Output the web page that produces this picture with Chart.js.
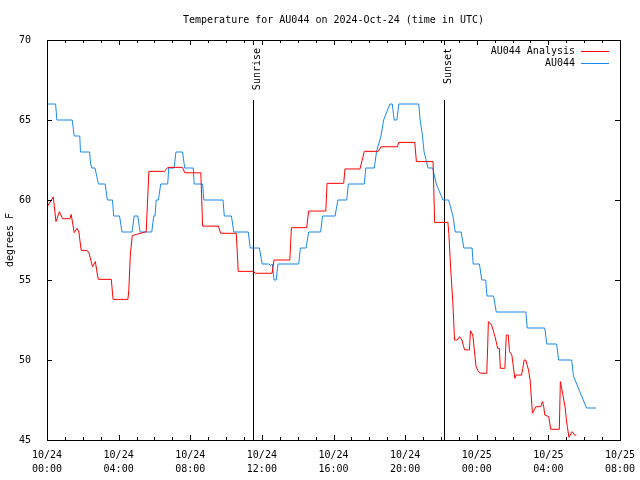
<!DOCTYPE html>
<html>
<head>
<meta charset="utf-8">
<title>Temperature for AU044</title>
<script src="https://cdn.jsdelivr.net/npm/chart.js@4.4.1/dist/chart.umd.min.js"></script>
<style>
  html, body { margin: 0; padding: 0; background: #fff; }
  #wrap { width: 640px; height: 480px; }
</style>
</head>
<body>
<div id="wrap"><canvas id="tempChart" width="640" height="480"></canvas></div>
<script>
// ============================================
// Data (hours since 10/24 00:00 UTC, degrees F)
// ============================================
const analysisHours = [
    0, 0.35, 0.5, 0.69, 0.87, 1.28, 1.35, 1.52, 1.68, 1.78, 1.91, 2.24, 2.35, 2.54, 2.7, 2.82, 2.87,
    3.59, 3.69, 4.52, 4.57, 4.65, 4.76, 5.0, 5.54, 5.69, 6.56, 6.75, 7.57, 7.69, 8.59, 8.69, 9.57,
    9.7, 10.57, 10.68, 11.5, 11.65, 12.57, 12.68, 13.56, 13.65, 14.5, 14.61, 15.57, 15.64, 16.57,
    16.64, 17.48, 17.72, 18.5, 18.65, 19.57, 19.64, 20.54, 20.63, 21.56, 21.65, 22.39, 22.44, 22.54,
    22.67, 22.76, 22.91, 23.04, 23.17, 23.32, 23.59, 23.65, 23.78, 23.96, 24.09, 24.24, 24.56, 24.61,
    24.65, 24.83, 25.02, 25.17, 25.26, 25.32, 25.57, 25.65, 25.76, 25.83, 25.96, 26.13, 26.2, 26.5,
    26.57, 26.65, 26.74, 26.89, 26.98, 27.11, 27.3, 27.57, 27.67, 27.74, 27.8, 28.02, 28.13, 28.61,
    28.67, 28.74, 28.83, 28.93, 29.0, 29.06, 29.15, 29.33, 29.46, 29.56
];
const analysisTemps = [
    59.55, 60.2, 58.65, 59.27, 58.83, 58.83, 59.1, 57.96, 58.23, 58.0, 56.85, 56.85, 56.67, 55.83, 56.15, 55.3, 55.04,
    55.04, 53.79, 53.79, 54.4, 56.5, 57.77, 57.85, 58.02, 61.79, 61.79, 62.04, 62.04, 61.7, 61.7, 58.37, 58.37,
    57.92, 57.92, 55.54, 55.54, 55.42, 55.42, 56.25, 56.25, 58.27, 58.27, 59.31, 59.31, 61.04, 61.04,
    61.94, 61.94, 63.04, 63.04, 63.33, 63.33, 63.6, 63.6, 62.4, 62.4, 58.6, 58.6, 57.9, 55.8,
    53.5, 51.25, 51.25, 51.46, 51.25, 50.63, 50.63, 51.83, 51.56, 49.58, 49.27, 49.17, 49.17, 50.83,
    52.4, 52.19, 51.46, 50.73, 50.73, 49.48, 49.48, 51.56, 51.56, 50.52, 50.31, 48.85, 49.06, 49.06,
    49.48, 50.0, 50.0, 49.38, 48.75, 46.67, 47.08, 47.08, 47.4, 47.08, 46.56, 46.46, 45.67, 45.67,
    48.65, 48.23, 47.71, 47.08, 46.35, 45.83, 45.17, 45.52, 45.31, 45.31
];

const obsHours = [
    0, 0.48, 0.55, 1.41, 1.52, 1.83, 1.87, 2.38, 2.43, 2.5, 2.68, 2.87, 3.25, 3.37, 3.66, 3.72, 4.05,
    4.19, 4.75, 4.87, 5.07, 5.2, 5.85, 5.96, 6.03, 6.1, 6.22, 6.35, 6.74, 6.8, 7.1, 7.2, 7.57, 7.69,
    8.17, 8.22, 8.69, 8.76, 9.83, 9.9, 10.3, 10.43, 11.24, 11.35, 11.86, 12.02, 12.4, 12.5, 12.58,
    12.68, 12.8, 12.9, 14.06, 14.15, 14.47, 14.61, 15.28, 15.39, 16.09, 16.24, 16.74, 16.83, 17.72,
    17.8, 18.28, 18.4, 18.65, 18.8, 19.15, 19.28, 19.39, 19.54, 19.65, 20.76, 20.84, 20.97, 21.06,
    21.28, 21.54, 21.74, 22.11, 22.43, 22.67, 22.8, 23.13, 23.28, 23.74, 23.8, 24.15, 24.28, 24.5,
    24.57, 24.94, 25.09, 26.74, 26.82, 27.8, 27.91, 28.46, 28.57, 29.3, 29.4, 30.13, 30.67
];
const obsTemps = [
    66, 66, 65, 65, 64, 64, 63, 63, 62.3, 62, 62, 61, 61, 60, 60, 59, 59,
    58, 58, 59, 59, 58, 58, 59, 59, 60, 60, 61, 61, 62, 62, 63, 63, 62,
    62, 61, 61, 60, 60, 59, 59, 58, 58, 57, 57, 56, 56, 55.9, 56,
    55, 55, 56, 56, 57, 57, 58, 58, 59, 59, 60, 60, 61, 61,
    62, 62, 63, 64, 65, 66, 66, 65, 65, 66, 66, 65, 64, 63,
    62, 62, 61, 60, 60, 59, 58, 58, 57, 57, 56, 56, 55, 55,
    54, 54, 53, 53, 52, 52, 51, 51, 50, 50, 49, 47, 47
];

const xTickDates = ["10/24", "10/24", "10/24", "10/24", "10/24", "10/24", "10/25", "10/25", "10/25"];
const xTickTimes = ["00:00", "04:00", "08:00", "12:00", "16:00", "20:00", "00:00", "04:00", "08:00"];

const sunEvents = ["Sunrise", "Sunset"];
const sunHours = [11.52, 22.19];

const seriesNames = ["AU044 Analysis", "AU044"];
const seriesColors = ["#ff0000", "#1a88f0"];

const FONT = "'DejaVu Sans Mono', monospace";

function toPoints(xs, ys) {
    return xs.map((x, i) => ({ x: x, y: ys[i] }));
}

// ============================================
// Plugin: gnuplot style frame, inward ticks, sun markers, legend
// ============================================
const gnuplotDecor = {
    id: "gnuplotDecor",
    beforeDatasetsDraw(chart) {
        const { ctx, chartArea: a, scales } = chart;
        const xs = scales.x;
        ctx.save();
        ctx.strokeStyle = "#000";
        ctx.lineWidth = 1;

        // sunrise / sunset lines with a white box behind the label
        ctx.font = "10px " + FONT;
        sunEvents.forEach((name, i) => {
            const px = Math.round(xs.getPixelForValue(sunHours[i])) + 0.5;
            ctx.beginPath();
            ctx.moveTo(px, a.top);
            ctx.lineTo(px, a.bottom);
            ctx.stroke();
            ctx.fillStyle = "#fff";
            ctx.fillRect(px - 5, a.top + 5, 14, 55);
            ctx.save();
            ctx.translate(px + 4, a.top + 8);
            ctx.rotate(-Math.PI / 2);
            ctx.fillStyle = "#000";
            ctx.textAlign = "right";
            ctx.textBaseline = "middle";
            ctx.fillText(name, 0, 0);
            ctx.restore();
        });
        ctx.restore();
    },
    afterDatasetsDraw(chart) {
        const { ctx, chartArea: a, scales } = chart;
        const xs = scales.x, ys = scales.y;
        ctx.save();
        ctx.strokeStyle = "#000";
        ctx.lineWidth = 1;
        ctx.beginPath();

        // x ticks (hourly minor, 4-hourly major), bottom and top
        for (let h = xs.min; h <= xs.max; h++) {
            const px = Math.round(xs.getPixelForValue(h)) + 0.5;
            const len = h % 4 === 0 ? 5 : 3;
            ctx.moveTo(px, a.bottom);
            ctx.lineTo(px, a.bottom - len);
            ctx.moveTo(px, a.top);
            ctx.lineTo(px, a.top + len);
        }
        // y ticks, left and right
        ys.ticks.forEach((t) => {
            const py = Math.round(ys.getPixelForValue(t.value)) + 0.5;
            ctx.moveTo(a.left, py);
            ctx.lineTo(a.left + 5, py);
            ctx.moveTo(a.right, py);
            ctx.lineTo(a.right - 5, py);
        });
        ctx.stroke();

        // frame
        ctx.strokeRect(Math.round(a.left) + 0.5, Math.round(a.top) + 0.5,
            Math.round(a.right - a.left), Math.round(a.bottom - a.top));

        // legend, top right, text then line sample
        ctx.font = "10px " + FONT;
        ctx.textAlign = "right";
        ctx.textBaseline = "middle";
        seriesNames.forEach((name, i) => {
            const y = a.top + 11 + i * 12;
            ctx.fillStyle = "#000";
            ctx.fillText(name, a.right - 45, y);
            ctx.strokeStyle = seriesColors[i];
            ctx.beginPath();
            ctx.moveTo(a.right - 39, Math.round(y) + 0.5);
            ctx.lineTo(a.right - 11, Math.round(y) + 0.5);
            ctx.stroke();
        });
        ctx.restore();
    },
};

// ============================================
// Chart
// ============================================
Chart.defaults.font.family = FONT;
Chart.defaults.font.size = 10;
Chart.defaults.color = "#000";

const ctx = document.getElementById("tempChart").getContext("2d");
new Chart(ctx, {
    type: "line",
    data: {
        datasets: [
            {
                label: seriesNames[0],
                data: toPoints(analysisHours, analysisTemps),
                borderColor: seriesColors[0],
                borderWidth: 1,
                pointRadius: 0,
                tension: 0,
                fill: false,
            },
            {
                label: seriesNames[1],
                data: toPoints(obsHours, obsTemps),
                borderColor: seriesColors[1],
                borderWidth: 1,
                pointRadius: 0,
                tension: 0,
                fill: false,
            },
        ],
    },
    options: {
        responsive: false,
        animation: false,
        events: [],
        layout: { padding: { top: 0, right: 20, bottom: 0, left: 0 } },
        plugins: {
            legend: { display: false },
            tooltip: { enabled: false },
            title: {
                display: true,
                text: "Temperature for AU044 on 2024-Oct-24 (time in UTC)",
                fullSize: false,
                font: { size: 10, weight: "normal", lineHeight: 1.2 },
                padding: { top: 14, bottom: 14 },
            },
        },
        scales: {
            x: {
                type: "linear",
                min: 0,
                max: 32,
                grid: { display: false },
                border: { display: false },
                ticks: {
                    stepSize: 4,
                    maxRotation: 0,
                    autoSkip: false,
                    padding: 1,
                    font: { size: 10, lineHeight: 1.35 },
                    callback: (v) => [xTickDates[v / 4], xTickTimes[v / 4]],
                },
                afterFit: (s) => {
                    s.height = 40;
                    s.paddingLeft = 0;
                    s.paddingRight = 0;
                },
            },
            y: {
                min: 45,
                max: 70,
                grid: { display: false },
                border: { display: false },
                ticks: { stepSize: 5, padding: 8 },
                title: {
                    display: true,
                    text: "degrees F",
                    font: { size: 10, lineHeight: 1.2 },
                    padding: { top: 4, bottom: 0 },
                },
                afterFit: (s) => { s.width = 47; },
            },
        },
    },
    plugins: [gnuplotDecor],
});
</script>
</body>
</html>
